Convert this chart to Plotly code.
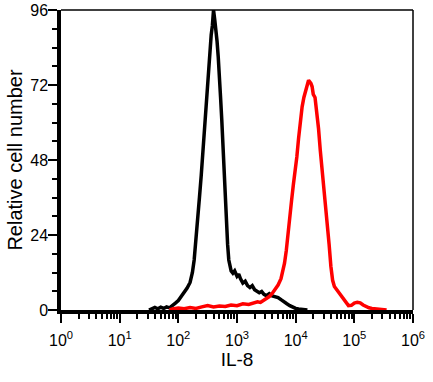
import numpy as np
import plotly.graph_objects as go

# Log10(IL-8 intensity) and relative cell number
black_log = [1.50, 1.55, 1.60, 1.65, 1.70, 1.75, 1.80, 1.85, 1.90, 1.95, 2.00, 2.05, 2.10, 2.15, 2.20,
             2.24, 2.27, 2.30, 2.33, 2.36, 2.39, 2.42, 2.45, 2.48, 2.50, 2.52, 2.54, 2.56, 2.58, 2.60,
             2.62, 2.64, 2.66, 2.68, 2.70, 2.72, 2.74, 2.76, 2.78, 2.80, 2.82, 2.84, 2.86, 2.88, 2.90,
             2.93, 2.96, 3.00, 3.03, 3.06, 3.10, 3.14, 3.18, 3.22, 3.26, 3.30, 3.34, 3.38, 3.42, 3.46,
             3.50, 3.55, 3.60, 3.65, 3.70, 3.75, 3.80, 3.85, 3.90, 3.95, 4.00, 4.05, 4.10, 4.20]
black_y = [0, 0.3, 0.8, 0.4, 0.9, 0.5, 1.0, 0.7, 1.6, 2.2, 3.0, 4.2, 5.5, 7.0, 8.8,
           12, 16, 22, 28, 36, 43, 51, 58, 66, 72, 79, 84, 88, 91, 96,
           93, 90, 86, 81, 76, 68, 61, 52, 44, 35, 27, 21, 16, 13.5, 12.5,
           11.8, 12.5, 10.8, 11.5, 10, 8.6, 9.2, 7.8, 7.2, 7.8, 6.5, 6.0, 5.5, 5.9, 5.0,
           4.6, 5.2, 4.5, 4.2, 4.0, 3.3, 2.8, 2.0, 1.4, 0.9, 0.5, 0.3, 0.2, 0]

red_log = [1.85, 1.90, 2.00, 2.10, 2.20, 2.30, 2.40, 2.50, 2.60, 2.70, 2.80, 2.90, 3.00, 3.10, 3.20,
           3.30, 3.35, 3.40, 3.45, 3.50, 3.55, 3.60, 3.65, 3.70, 3.75, 3.78, 3.81, 3.84, 3.87, 3.90,
           3.93, 3.96, 3.99, 4.02, 4.05, 4.08, 4.11, 4.14, 4.17, 4.20, 4.22, 4.24, 4.26, 4.28, 4.30,
           4.33, 4.36, 4.39, 4.42, 4.45, 4.48, 4.51, 4.54, 4.57, 4.60, 4.63, 4.66, 4.70, 4.74, 4.78,
           4.82, 4.86, 4.90, 4.95, 5.00, 5.05, 5.10, 5.15, 5.20, 5.25, 5.30, 5.40, 5.50, 5.55]
red_y = [0, 0.3, 0.6, 0.4, 0.8, 0.5, 1.0, 1.4, 1.0, 1.3, 1.1, 1.6, 1.4, 2.0, 1.8,
         2.3, 2.6, 2.4, 3.0, 3.6, 4.3, 5.3, 6.6, 8.0, 10, 12, 15, 19, 25, 30,
         35, 40, 44, 49, 55, 61, 65, 68, 70, 72, 73.5, 73, 72.5, 71.5, 69,
         68, 64, 58, 51, 45, 40, 35, 29, 21, 14, 9.5, 7.5, 6.5, 5.2, 4.5,
         3.4, 2.2, 1.4, 1.5, 2.2, 2.5, 2.3, 1.6, 1.0, 0.7, 0.5, 0.4, 0.2, 0]

x_tick_exp = [0, 1, 2, 3, 4, 5, 6]
y_ticks = [0, 24, 48, 72, 96]

FONT = "Arial, Liberation Sans, sans-serif"

fig = go.Figure()
fig.add_trace(go.Scatter(x=np.power(10.0, black_log), y=black_y, mode="lines",
                         line=dict(color="black", width=3.5), showlegend=False))
fig.add_trace(go.Scatter(x=np.power(10.0, red_log), y=red_y, mode="lines",
                         line=dict(color="#ff0000", width=3.5), showlegend=False))

minor_x = [m * 10 ** e for e in range(0, 6) for m in range(2, 10)]

fig.update_xaxes(
    type="log", range=[0, 6], automargin=False,
    tickvals=[10 ** e for e in x_tick_exp],
    ticktext=[f"10<sup>{e}</sup>" for e in x_tick_exp],
    ticks="outside", ticklen=9, tickwidth=1.5, tickcolor="black",
    minor=dict(tickvals=minor_x, ticks="outside", ticklen=5, tickwidth=1.5, tickcolor="black", showgrid=False),
    showline=True, linecolor="black", linewidth=3.5,
    showgrid=False, zeroline=False, ticklabelstandoff=4,
    tickfont=dict(family=FONT, size=16, color="black"),
    title=dict(text="IL-8", font=dict(family=FONT, size=19, color="black"), standoff=0),
)
fig.update_yaxes(
    range=[0, 96], automargin=False,
    tickvals=y_ticks,
    ticks="outside", ticklen=9, tickwidth=1.5, tickcolor="black",
    minor=dict(dtick=6, ticks="outside", ticklen=5, tickwidth=1.5, tickcolor="black", showgrid=False),
    showline=True, linecolor="black", linewidth=3.5,
    showgrid=False, zeroline=False, ticklabelstandoff=-3,
    tickfont=dict(family=FONT, size=16, color="black"),
    title=dict(text="Relative cell number", font=dict(family=FONT, size=20, color="black"), standoff=3),
)

# thin top and right frame lines
fig.add_shape(type="line", xref="paper", yref="paper", x0=0, x1=1, y0=1, y1=1,
              line=dict(color="black", width=1.5))
fig.add_shape(type="line", xref="paper", yref="paper", x0=1, x1=1, y0=0, y1=1,
              line=dict(color="black", width=1.5))

fig.update_layout(
    width=433, height=382,
    margin=dict(l=61, r=20, t=10, b=72),
    paper_bgcolor="white", plot_bgcolor="white",
    font=dict(family=FONT, color="black"),
)

fig.write_html("out.html", config={"displayModeBar": False},
               post_script="document.body.style.margin='0';document.body.style.overflow='hidden';")
